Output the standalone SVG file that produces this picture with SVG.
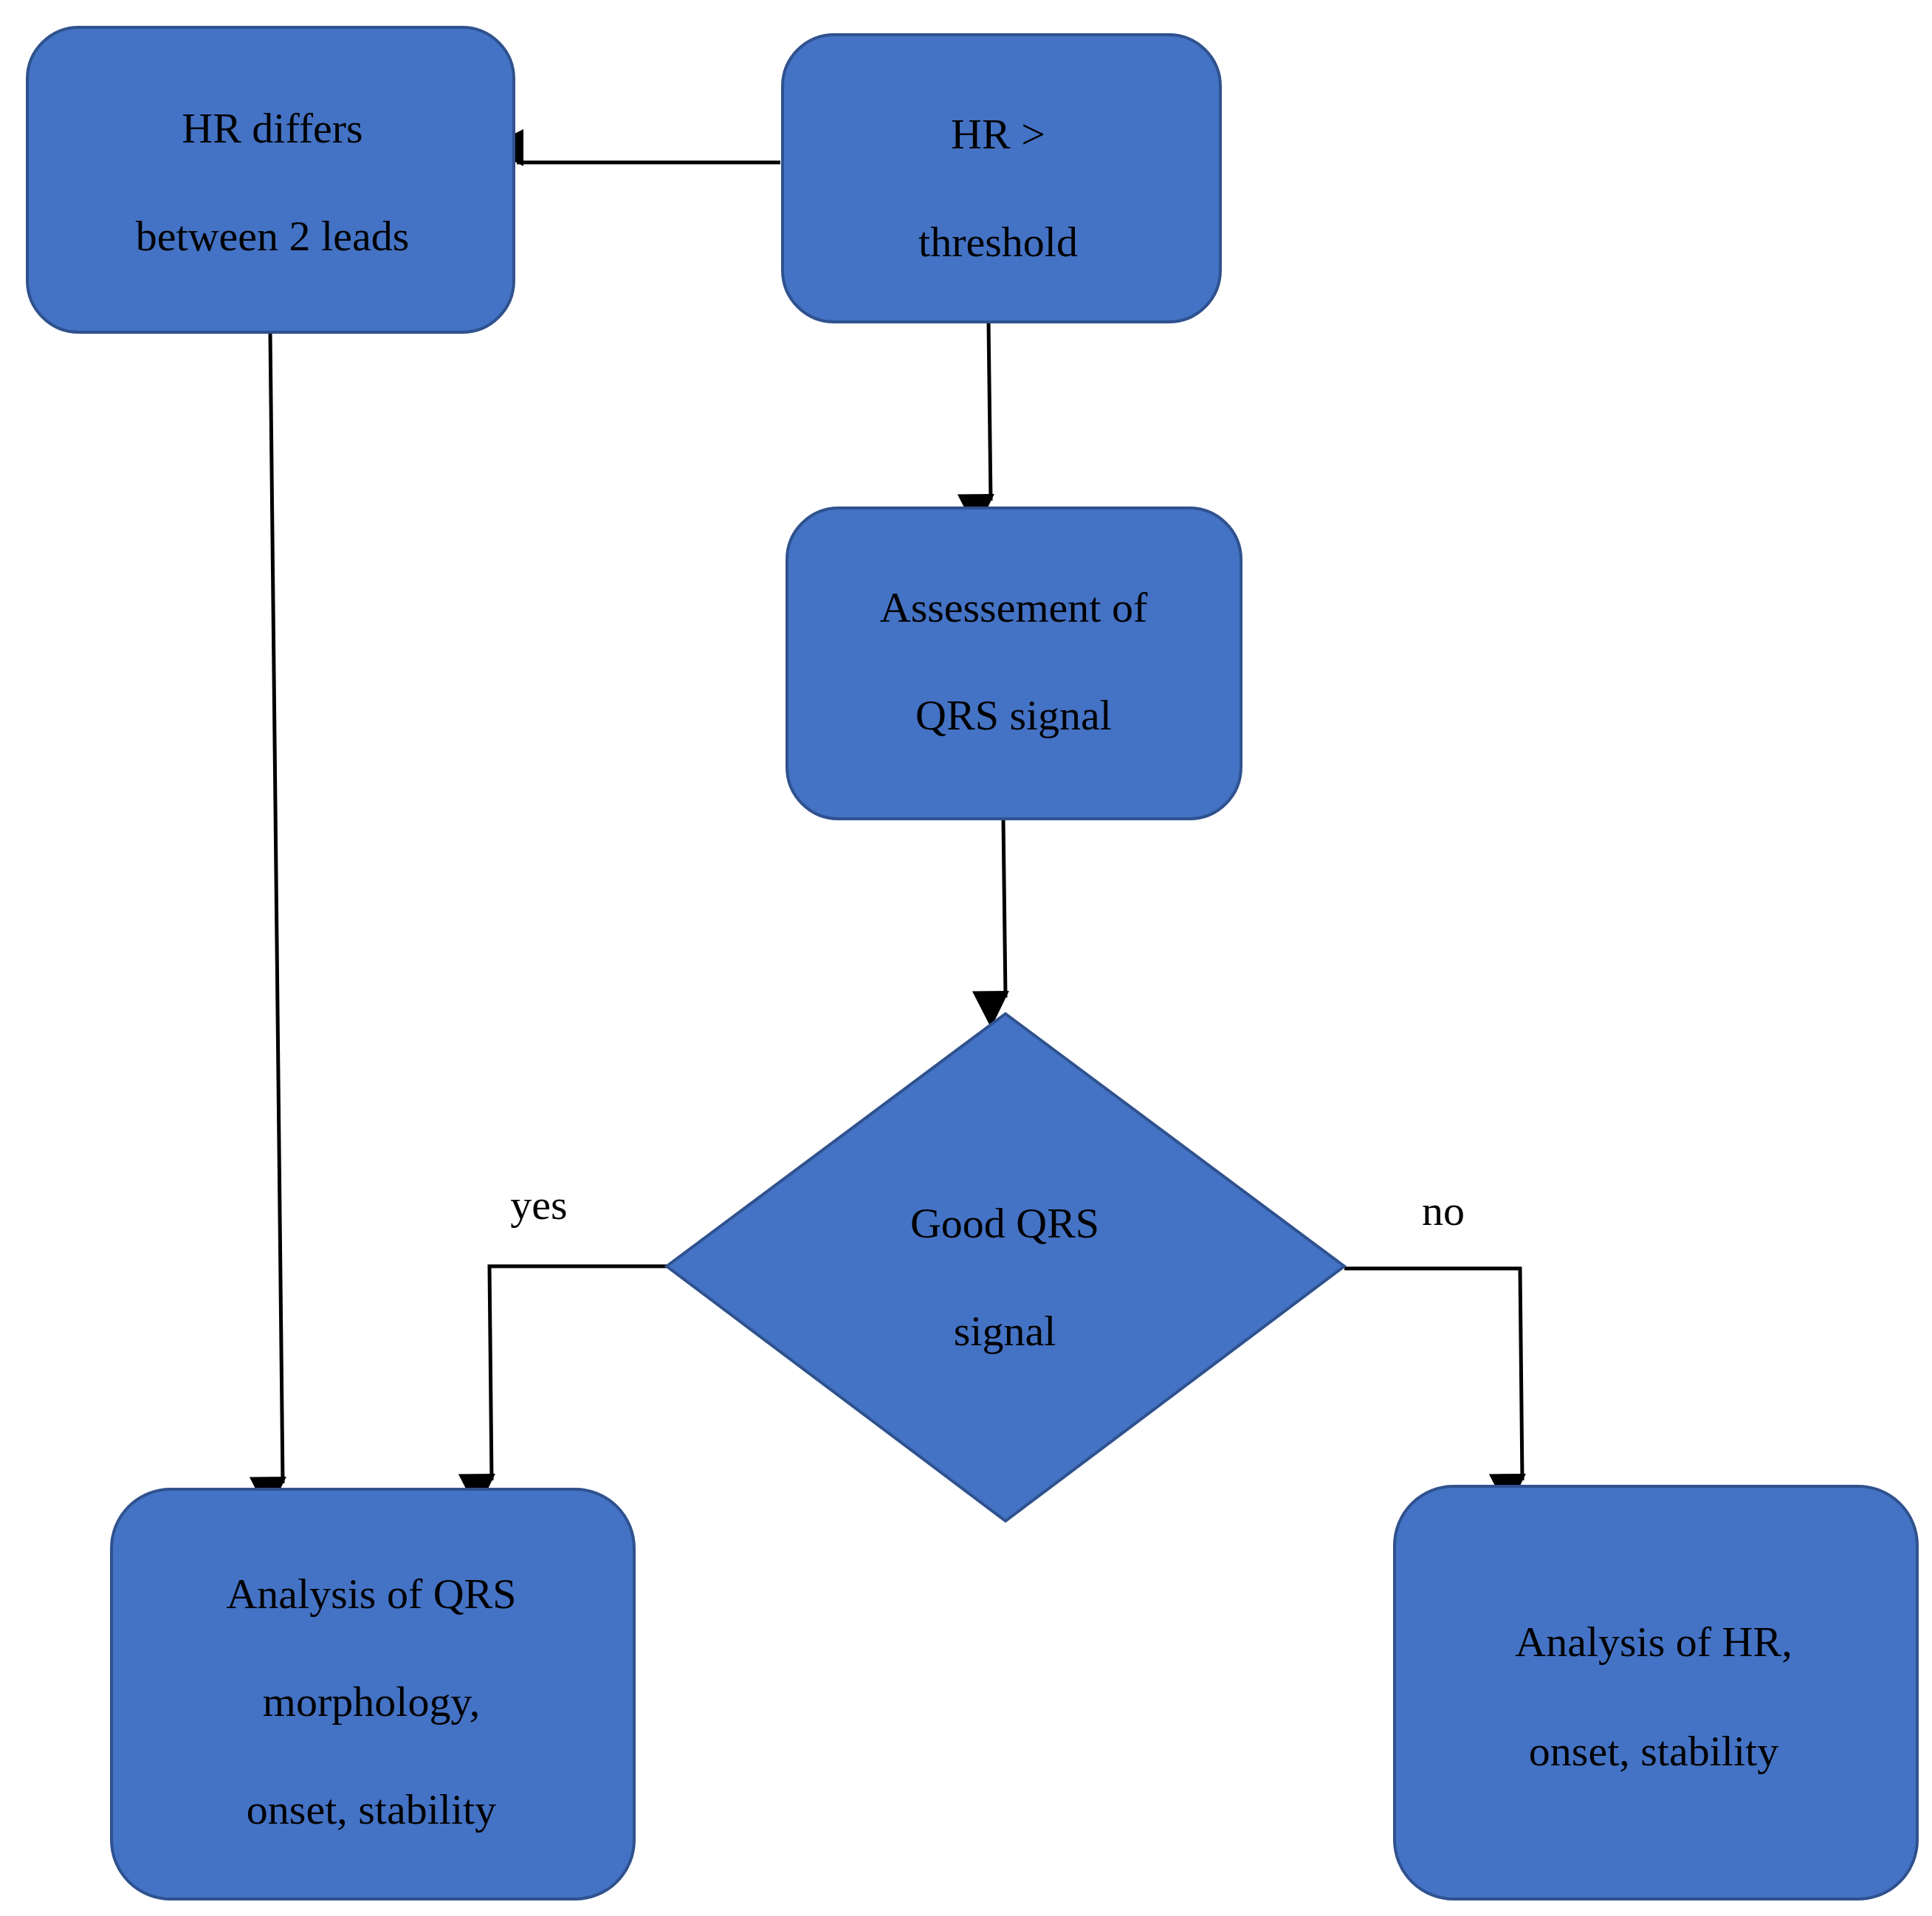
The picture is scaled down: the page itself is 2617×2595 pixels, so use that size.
<svg xmlns="http://www.w3.org/2000/svg" width="2617" height="2595" viewBox="0 0 2617 2595">
<style>
.n{fill:#4472C4;stroke:#2F528F;stroke-width:4}
.t{font-family:"Liberation Serif",serif;font-size:58px;fill:#000;text-anchor:middle}
.c{fill:none;stroke:#000;stroke-width:5}
</style>
<defs><marker id="a" viewBox="0 0 10 10" refX="9" refY="5" markerWidth="10" markerHeight="10" markerUnits="userSpaceOnUse" orient="auto" style="overflow:visible"><path d="M0,0 L10,5 L0,10 Z" fill="#000" transform="scale(5)"/></marker></defs>
<rect width="2617" height="2595" fill="#fff"/>
<g id="connectors">
<path class="c" d="M1057,220 L700,220" marker-end="url(#a)"/>
<path class="c" d="M1339,436 L1342,678" marker-end="url(#a)"/>
<path class="c" d="M1359,1109 L1362,1351" marker-end="url(#a)"/>
<path class="c" d="M366,450 L383,2009" marker-end="url(#a)"/>
<path class="c" d="M903,1715 L663,1715 L666,2005" marker-end="url(#a)"/>
<path class="c" d="M1821,1718 L2059,1718 L2062,2005" marker-end="url(#a)"/>
<text class="t" x="730" y="1651">yes</text>
<text class="t" x="1955" y="1659">no</text>
</g>
<g id="n1"><rect class="n" x="37" y="37" width="659" height="413" rx="70"/><text class="t" x="369" y="193">HR differs</text><text class="t" x="369" y="339">between 2 leads</text></g>
<g id="n2"><rect class="n" x="1060" y="47" width="593" height="389" rx="70"/><text class="t" x="1352" y="201">HR &gt;</text><text class="t" x="1352" y="347">threshold</text></g>
<g id="n3"><rect class="n" x="1066" y="688" width="615" height="421" rx="70"/><text class="t" x="1373" y="842">Assessement of</text><text class="t" x="1373" y="988">QRS signal</text></g>
<g id="n4"><polygon class="n" points="1362,1373 1821,1715 1362,2060 903,1715"/><text class="t" x="1361" y="1676">Good QRS</text><text class="t" x="1361" y="1822">signal</text></g>
<g id="n5"><rect class="n" x="151" y="2017" width="708" height="555" rx="80"/><text class="t" x="503" y="2178">Analysis of QRS</text><text class="t" x="503" y="2324">morphology,</text><text class="t" x="503" y="2470">onset, stability</text></g>
<g id="n6"><rect class="n" x="1889" y="2013" width="708" height="559" rx="80"/><text class="t" x="2240" y="2243">Analysis of HR,</text><text class="t" x="2240" y="2391">onset, stability</text></g>
</svg>
